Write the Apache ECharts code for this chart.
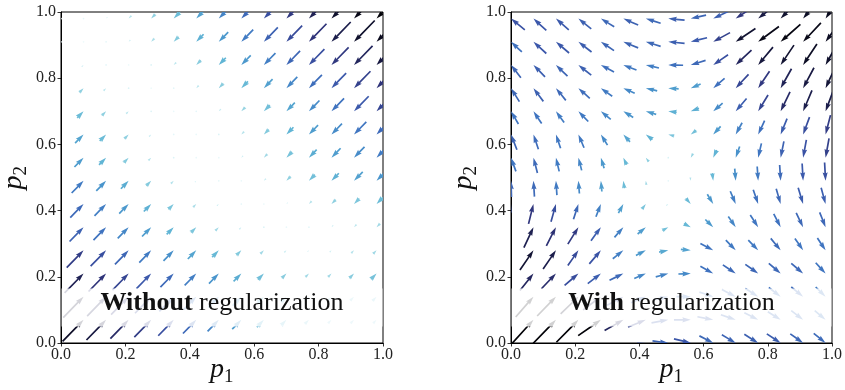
<!DOCTYPE html>
<html><head><meta charset="utf-8">
<script src="https://cdn.jsdelivr.net/npm/echarts@6/dist/echarts.min.js"></script>
<style>html,body{margin:0;padding:0;background:#fff}#c{width:845px;height:390px}</style>
</head><body><div id="c"></div>
<script>
// grid positions of the arrow tips (p1 and p2 share them)
const gridP = [0, 0.07, 0.14, 0.21, 0.28, 0.35, 0.42, 0.49, 0.56, 0.63, 0.70, 0.77, 0.84, 0.91, 0.98];
const tickLabels = ['0.0', '0.2', '0.4', '0.6', '0.8', '1.0'];
const titleBold = ['Without', 'With'];
const titleRest = [' regularization', ' regularization'];

// Left panel (without regularization): rows = p2 index (bottom to top), cols = p1 index
const leftU = [
 [23.3,21.9,20.5,19.1,17.7,16.3,14.1,12,9.9,7.8,6,4.6,3.2,2.1,1.4],
 [22.6,21.2,19.8,18.4,17,15.6,13.4,11.3,9.2,7.1,5.3,4.2,3.5,3.5,3.5],
 [21.6,20.5,19.1,17.7,16.3,14.5,12.7,10.6,8.8,6.7,5.3,4.2,3.5,3.9,4.2],
 [20.5,19.1,17.7,16.3,14.8,13.4,11.7,9.9,7.8,6,4.6,3.5,3.5,4.6,5.7],
 [18.4,17,15.6,13.8,12,10.3,8.5,6.7,4.9,3.5,2.1,1.4,1.8,2.8,3.5],
 [16.3,14.1,12.7,11,9.2,7.1,5.3,3.5,2.1,1.1,0.4,-0.7,-1.8,-2.5,-3.5],
 [14.8,13.4,11.7,9.5,7.4,5.3,3.2,1.8,0.7,-0.4,-1.4,-2.8,-4.2,-5.3,-6.4],
 [13.4,12,9.9,7.8,4.9,2.8,1.4,0.6,-0.4,-2.1,-4.2,-6,-7.4,-8.8,-9.9],
 [10.6,9.2,7.1,4.9,2.8,1.1,0.4,-0.4,-1.8,-3.5,-5.7,-7.8,-9.2,-10.6,-12],
 [9.5,8.5,6.4,4.2,2.1,0.7,0.4,-1.1,-2.8,-4.9,-7.1,-9.2,-10.6,-12.4,-13.4],
 [7.4,6.4,4.2,2.5,1.1,0.4,-0.7,-2.1,-3.9,-6,-8.5,-10.6,-12.7,-14.8,-16.3],
 [5.3,4.2,2.5,1.1,0.2,-0.7,-2.5,-4.6,-6.7,-8.8,-11,-13.1,-14.8,-16.6,-17.7],
 [2.8,1.8,0.7,0.2,-1.1,-2.5,-4.6,-7.1,-9.5,-11.7,-13.8,-15.6,-17.3,-18.7,-19.8],
 [0.7,-0.2,-0.7,-1.8,-3.2,-4.9,-7.4,-9.5,-12,-14.1,-15.9,-17.7,-19.4,-20.9,-21.9],
 [-0.1,-0.6,-1.4,-2.8,-4.2,-6.4,-8.8,-11.3,-13.4,-15.6,-17.3,-19.1,-20.9,-22.3,-23.3]
];
const leftV = [
 [23.3,21.9,20.5,19.1,17.7,16.3,14.1,12,9.9,7.8,6,4.6,3.2,2.1,1.4],
 [22.6,21.2,19.8,18.4,17,15.6,13.4,11.3,9.2,7.1,5.3,4.2,3.5,3.5,3.5],
 [21.6,20.5,19.1,17.7,16.3,14.5,12.7,10.6,8.8,6.7,5.3,4.2,3.5,3.9,4.2],
 [20.5,19.1,17.7,16.3,14.8,13.4,11.7,9.9,7.8,6,4.6,3.5,3.5,4.6,5.7],
 [18.4,17,15.6,13.8,12,10.3,8.5,6.7,4.9,3.5,2.1,1.4,1.8,2.8,3.5],
 [16.3,14.1,12.7,11,9.2,7.1,5.3,3.5,2.1,1.1,0.4,-0.7,-1.8,-2.5,-3.5],
 [14.8,13.4,11.7,9.5,7.4,5.3,3.2,1.8,0.7,-0.4,-1.4,-2.8,-4.2,-5.3,-6.4],
 [13.4,12,9.9,7.8,4.9,2.8,1.4,0.6,-0.4,-2.1,-4.2,-6,-7.4,-8.8,-9.9],
 [10.6,9.2,7.1,4.9,2.8,1.1,0.4,-0.4,-1.8,-3.5,-5.7,-7.8,-9.2,-10.6,-12],
 [9.5,8.5,6.4,4.2,2.1,0.7,0.4,-1.1,-2.8,-4.9,-7.1,-9.2,-10.6,-12.4,-13.4],
 [7.4,6.4,4.2,2.5,1.1,0.4,-0.7,-2.1,-3.9,-6,-8.5,-10.6,-12.7,-14.8,-16.3],
 [5.3,4.2,2.5,1.1,0.2,-0.7,-2.5,-4.6,-6.7,-8.8,-11,-13.1,-14.8,-16.6,-17.7],
 [2.8,1.8,0.7,0.2,-1.1,-2.5,-4.6,-7.1,-9.5,-11.7,-13.8,-15.6,-17.3,-18.7,-19.8],
 [0.7,-0.2,-0.7,-1.8,-3.2,-4.9,-7.4,-9.5,-12,-14.1,-15.9,-17.7,-19.4,-20.9,-21.9],
 [-0.1,-0.6,-1.4,-2.8,-4.2,-6.4,-8.8,-11.3,-13.4,-15.6,-17.3,-19.1,-20.9,-22.3,-23.3]
];

// Right panel (with regularization)
const rightU = [
 [24,23,22,22,21,19,17,16,17,14,14,14,14,13,12],
 [23,22,23,22.3,23,19,18,17,17,16,15,14,13,12,11],
 [20,18,19,18,18,16.5,15,15,14.5,14,14,13,12,12,10],
 [14,13.7,14.7,14,13.3,14,11.7,12.7,12.5,13,13,13,12,12,10],
 [11,13.7,13,10.7,11.7,10.7,10,9.3,10,13,10,10,10,8.3,8.3],
 [8,9.7,9.7,10.7,10,9,8.3,6,7,8,7.5,8,7,7,6],
 [4,5,5,5,5,5,4,2,5,6,5.5,5,4.5,5,4.5],
 [-0.5,-1,-1,-1,-1,-1,-0.5,0,0.5,1,1,1,1,1,1],
 [-5,-4,-3.3,-3.3,-3.3,-3.3,-3,-1.2,-2.3,-3.5,-4,-3.3,-3.3,-3.3,-3.5],
 [-6,-5,-4.7,-5.7,-6.7,-6.7,-6.7,-6,-5.5,-7.5,-6.5,-6.5,-6.5,-6.5,-5],
 [-7.5,-8.3,-8.3,-10,-10,-10,-10.5,-8.5,-8.3,-9.5,-11,-10,-9.5,-9,-8],
 [-8.5,-10,-10,-11.5,-11.5,-11.5,-11.5,-10.5,-10,-11.5,-13,-11.5,-11,-11,-10],
 [-10,-11.7,-11.7,-13,-13.3,-13.3,-13.3,-15,-15,-15,-16,-15,-13.5,-14,-12],
 [-11,-13,-13.3,-13.3,-13.3,-15,-15,-16.5,-16.5,-17,-20,-21,-20,-18,-15],
 [-14,-13,-13,-13,-13.5,-15,-15,-16.5,-15.5,-15,-17,-18,-17,-16,-14]
];
const rightV = [
 [24,23,21,18,14,9,4,-2,-4,-7,-8,-8.5,-9,-9,-9.5],
 [24,23.5,23,22,15.5,10.5,7,3,0,-3,-5,-7,-8,-9,-9],
 [22,20,19,17,13,8.5,6,3,0,-4.5,-7,-8,-9,-9.5,-9.5],
 [19,16.7,15,11.7,10,6.7,5,3.3,0.5,-7,-8.5,-9,-10,-10,-10.5],
 [18,19.3,18.3,15,13.3,8.3,5,1.7,-1,-6.7,-10,-10,-11.7,-11.7,-12],
 [19,20,18.3,16.7,13.3,10,6.7,3.3,-3.5,-7.5,-10.5,-12,-13,-14,-14.5],
 [18,19.5,17.5,15,12.5,9,5,1.5,-5.5,-9.5,-12.5,-14,-15,-16,-16],
 [16,15.5,14,12.5,10.5,7.3,4,0.8,-3.3,-7.5,-12,-14,-15.5,-17,-18],
 [13.5,15,13.5,12.5,10.5,7,4,0.8,-4,-7.5,-11,-14,-16,-17.5,-19],
 [15,14.5,13.5,13,10.5,7.3,5,1.5,-4,-8,-11.5,-13.5,-15.5,-17,-19],
 [12.5,12,11,10,8,6,3,1,-3,-8,-12.5,-16,-19,-20.5,-21],
 [13.3,13,12,10,8,5,2.7,0.7,-4,-9.5,-13.5,-16.5,-19,-20,-21],
 [12.5,11.7,11,10,7,5,3,0.3,-4.5,-10,-14.5,-17.5,-19.5,-20.5,-21],
 [10,11.5,11,10,8.7,6,4.5,1.5,-4,-9,-13,-15,-17,-18.5,-20],
 [11,11.5,11,10,8,6.3,4.5,1.5,-3.5,-7,-11,-14,-17,-19,-21]
];

// ---- styling ----
const SCALE = 325;            // vector units per axis unit (like quiver scale)
const colorMax = [33, 27];    // colour normalisation per panel
const palette = [
 [0.00,[242,251,252]],[0.08,[205,238,243]],[0.18,[143,208,224]],[0.30,[98,182,213]],
 [0.42,[74,150,204]],[0.54,[63,116,192]],[0.65,[59,85,168]],[0.76,[47,51,120]],
 [0.86,[21,22,58]],[1.00,[3,3,8]]
];
function colorAt(t){
  t = Math.max(0, Math.min(1, t));
  for (let k = 1; k < palette.length; k++){
    if (t <= palette[k][0]){
      const a = palette[k-1], b = palette[k];
      const f = (t - a[0]) / (b[0] - a[0]);
      const c = a[1].map((v, n) => Math.round(v + (b[1][n] - v) * f));
      return 'rgb(' + c.join(',') + ')';
    }
  }
  return 'rgb(3,3,8)';
}
const SERIF = '"Liberation Serif", "Times New Roman", serif';

function buildData(U, V){
  const d = [];
  for (let j = 0; j < gridP.length; j++)
    for (let i = 0; i < gridP.length; i++)
      d.push([gridP[i], gridP[j], U[j][i], V[j][i]]);
  return d;
}
function makeRender(cmax){
  return function(params, api){
    const gx = api.value(0), gy = api.value(1), u = api.value(2), v = api.value(3);
    const tip = api.coord([gx, gy]);
    const tail = api.coord([gx - u / SCALE, gy - v / SCALE]);
    const dx = tip[0] - tail[0], dy = tip[1] - tail[1];
    const L = Math.hypot(dx, dy);
    const color = colorAt(Math.hypot(u, v) / cmax);
    const cs = params.coordSys;
    const clip = {type: 'rect', shape: {x: cs.x, y: cs.y, width: cs.width, height: cs.height}};
    const W = 1.7, HL = 5 * W, HAL = 4.5 * W, HW = 3 * W;
    if (L < W) {
      return {type: 'circle', shape: {cx: tip[0], cy: tip[1], r: W / 2}, style: {fill: color}, clipPath: clip};
    }
    const Lm = Math.max(L, HL), k = L / Lm;
    const base = [[0,-W/2],[Lm-HAL,-W/2],[Lm-HL,-HW/2],[Lm,0],[Lm-HL,HW/2],[Lm-HAL,W/2],[0,W/2]];
    const ux = dx / L, uy = dy / L;
    const pts = base.map(p => {
      const px = p[0] * k - L, py = p[1] * k;
      return [tip[0] + px * ux - py * uy, tip[1] + px * uy + py * ux];
    });
    return {type: 'polygon', shape: {points: pts}, style: {fill: color}, clipPath: clip};
  };
}

function axisCommon(){
  return {
    type: 'value', min: 0, max: 1, interval: 0.2,
    axisLine: {show: true, onZero: false, lineStyle: {color: '#000', width: 1}},
    axisTick: {show: true, inside: false, length: 3.5, lineStyle: {color: '#000', width: 0.8}},
    splitLine: {show: false},
    axisLabel: {fontFamily: SERIF, fontSize: 16, color: '#222', showMinLabel: true, showMaxLabel: true,
      formatter: v => tickLabels[Math.round(v / 0.2)]}
  };
}
const grids = [
  {left: 61, top: 12, width: 322, height: 331, show: true, borderColor: '#000', borderWidth: 1},
  {left: 511, top: 12, width: 323, height: 331, show: true, borderColor: '#000', borderWidth: 1}
];
const xAxes = [0, 1].map(g => Object.assign(axisCommon(), {gridIndex: g,
  axisLabel: Object.assign(axisCommon().axisLabel, {margin: 4})}));
const yAxes = [0, 1].map(g => Object.assign(axisCommon(), {gridIndex: g,
  axisLabel: Object.assign(axisCommon().axisLabel, {margin: 5})}));

const chart = echarts.init(document.getElementById('c'), null, {renderer: 'canvas'});
chart.setOption({
  animation: false,
  backgroundColor: '#fff',
  grid: grids, xAxis: xAxes, yAxis: yAxes,
  series: [
    {type: 'custom', xAxisIndex: 0, yAxisIndex: 0, renderItem: makeRender(colorMax[0]), data: buildData(leftU, leftV), clip: true, z: 2},
    {type: 'custom', xAxisIndex: 1, yAxisIndex: 1, renderItem: makeRender(colorMax[1]), data: buildData(rightU, rightV), clip: true, z: 2}
  ]
});

// overlays: label box, label texts, axis names
const graphics = [];
[0, 1].forEach(g => {
  const f = {xAxisIndex: g, yAxisIndex: g};
  const a = chart.convertToPixel(f, [0, 0.165]);
  const b = chart.convertToPixel(f, [1, 0.05]);
  graphics.push({type: 'rect', z: 50, silent: true,
    shape: {x: a[0] + 0.5, y: a[1], width: b[0] - a[0] - 1, height: b[1] - a[1]},
    style: {fill: 'rgba(255,255,255,0.82)'}});
  const t = chart.convertToPixel(f, [0.5, 0.12]);
  graphics.push({type: 'text', z: 60, x: t[0], y: t[1], silent: true,
    style: {text: '{b|' + titleBold[g] + '}{n|' + titleRest[g] + '}', align: 'center', verticalAlign: 'middle',
      rich: {b: {fontFamily: SERIF, fontSize: 26, fontWeight: 'bold', fill: '#111'},
             n: {fontFamily: SERIF, fontSize: 26, fill: '#111'}}}});
  const o = chart.convertToPixel(f, [0, 0]);
  const c = chart.convertToPixel(f, [0.5, 0.5]);
  const nameParts = (sub, pos, rot) => ({type: 'group', z: 60, x: pos[0], y: pos[1], rotation: rot, silent: true,
    children: [
      {type: 'text', x: -12, y: -9.5, style: {text: 'p', fontFamily: SERIF, fontStyle: 'italic', fontSize: 28, fill: '#111', align: 'left', verticalAlign: 'middle'}},
      {type: 'text', x: 2, y: -1.5, style: {text: sub, fontFamily: SERIF, fontSize: 19, fill: '#111', align: 'left', verticalAlign: 'middle'}}
    ]});
  graphics.push(nameParts('1', [c[0], o[1] + 36], 0));
  graphics.push(nameParts('2', [o[0] - 38, c[1]], Math.PI / 2));
});
chart.setOption({graphic: graphics});
</script></body></html>
